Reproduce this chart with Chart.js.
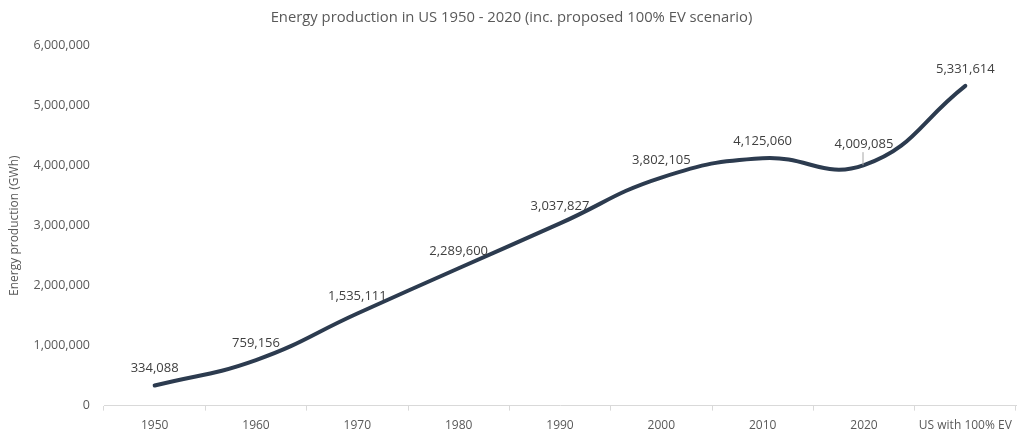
<!DOCTYPE html>
<html>
<head>
<meta charset="utf-8">
<script src="https://cdn.jsdelivr.net/npm/chart.js@4.4.1/dist/chart.umd.min.js"></script>
<style>
  html, body { margin: 0; padding: 0; background: #fff; }
  #wrap { width: 1024px; height: 441px; position: relative; }
</style>
</head>
<body>
<div id="wrap"><canvas id="energyChart"></canvas></div>
<script>
const categories = ["1950", "1960", "1970", "1980", "1990", "2000", "2010", "2020", "US with 100% EV"];
const production = [334088, 759156, 1535111, 2289600, 3037827, 3802105, 4125060, 4009085, 5331614];
const yTicks = [0, 1000000, 2000000, 3000000, 4000000, 5000000, 6000000];

const fontFamily = "'Open Sans', 'DejaVu Sans', sans-serif";
const textColor = "#595959";

// draws value labels above each point, with a leader line where the label sits close to the curve
const valueLabels = {
  id: "valueLabels",
  afterDatasetsDraw(chart) {
    const ctx = chart.ctx;
    const meta = chart.getDatasetMeta(0);
    ctx.save();
    ctx.font = "13px " + fontFamily;
    ctx.fillStyle = "#404040";
    ctx.textAlign = "center";
    ctx.textBaseline = "middle";
    meta.data.forEach((pt, i) => {
      const v = chart.data.datasets[0].data[i];
      let y = pt.y - 17;
      if (i === 7) {
        y = pt.y - 21;
        ctx.strokeStyle = "#a6a6a6";
        ctx.lineWidth = 1;
        ctx.beginPath();
        ctx.moveTo(pt.x - 1, y + 8);
        ctx.lineTo(pt.x - 1, pt.y);
        ctx.stroke();
      }
      ctx.fillText(v.toLocaleString("en-US"), pt.x, y);
    });
    ctx.restore();
  }
};

const ctx = document.getElementById("energyChart").getContext("2d");
new Chart(ctx, {
  type: "line",
  data: {
    labels: categories,
    datasets: [{
      label: "Energy production",
      data: production,
      borderColor: "#2c3b4f",
      borderWidth: 4,
      borderCapStyle: "round",
      pointRadius: 0,
      tension: 0.45,
      fill: false
    }]
  },
  options: {
    responsive: true,
    maintainAspectRatio: false,
    animation: false,
    layout: { padding: { left: 7, right: 8, top: 1, bottom: 0 } },
    plugins: {
      legend: { display: false },
      tooltip: { enabled: false },
      title: {
        display: true,
        text: "Energy production in US 1950 - 2020 (inc. proposed 100% EV scenario)",
        color: textColor,
        font: { family: fontFamily, size: 14.8, weight: "normal" },
        padding: { top: 8, bottom: 19 }
      }
    },
    scales: {
      x: {
        offset: true,
        grid: {
          offset: true,
          drawOnChartArea: false,
          drawTicks: true,
          tickLength: 5,
          color: "#d9d9d9"
        },
        border: { display: true, color: "#d9d9d9", width: 1 },
        ticks: {
          color: textColor,
          font: { family: fontFamily, size: 12 },
          maxRotation: 0,
          autoSkip: false,
          padding: 8
        }
      },
      y: {
        min: 0,
        max: 6000000,
        afterBuildTicks(scale) {
          scale.ticks = yTicks.map(v => ({ value: v }));
        },
        afterFit(scale) { scale.width = 97; },
        grid: { display: false },
        border: { display: false },
        ticks: {
          color: textColor,
          font: { family: fontFamily, size: 12.5 },
          padding: 6,
          callback: v => v.toLocaleString("en-US")
        },
        title: {
          display: true,
          text: "Energy production (GWh)",
          color: textColor,
          font: { family: fontFamily, size: 12 },
          padding: { top: 0, bottom: 6 }
        }
      }
    }
  },
  plugins: [valueLabels]
});
</script>
</body>
</html>
